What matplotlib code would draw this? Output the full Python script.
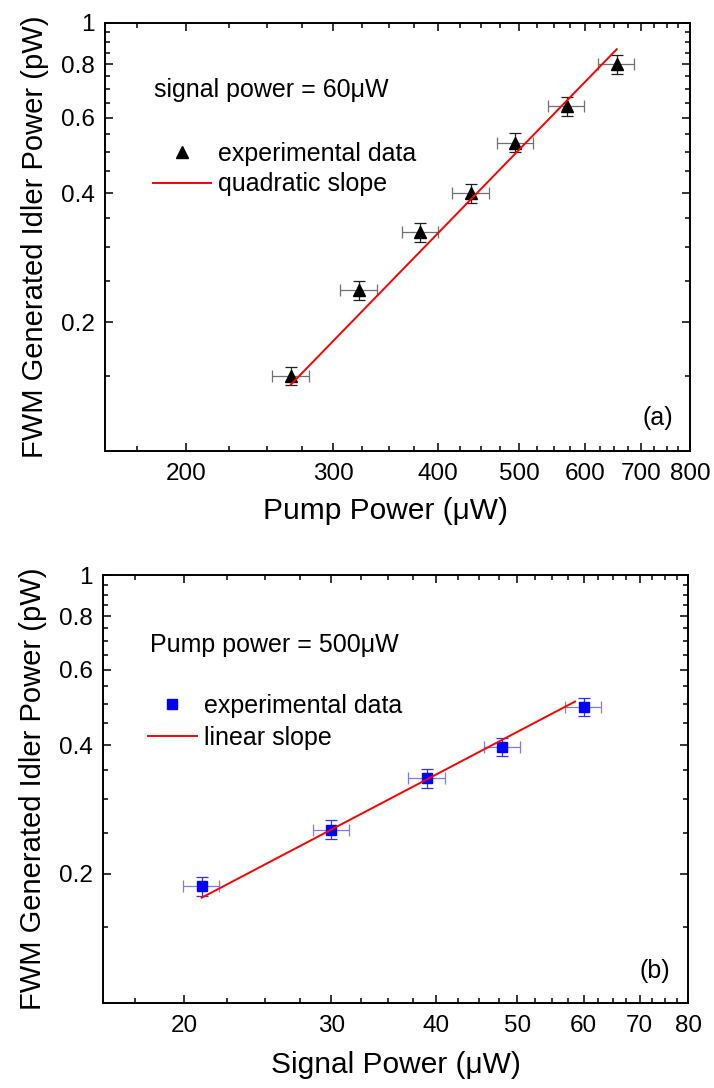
import numpy as np
import matplotlib
matplotlib.use("Agg")
import matplotlib.pyplot as plt
from matplotlib.ticker import FixedLocator, FuncFormatter, NullFormatter

plt.rcParams['font.family'] = ['Liberation Sans', 'DejaVu Sans']

# panel (a): idler power vs pump power (signal = 60 uW)
pump_power = [267, 322, 381, 438, 495, 570, 654]
idler_a = [0.150, 0.237, 0.324, 0.400, 0.525, 0.639, 0.801]
quad_x = [267, 654]
quad_y = [0.143, 0.867]

# panel (b): idler power vs signal power (pump = 500 uW)
signal_power = [21.0, 30.0, 39.0, 48.0, 60.0]
idler_b = [0.187, 0.254, 0.335, 0.397, 0.492]
lin_x = [21.0, 58.6]
lin_y = [0.176, 0.506]

rel_err = 0.05  # 5% error bars on both axes

a_xticks = [200, 300, 400, 500, 600, 700, 800]
a_xminor = [175, 225, 250, 275, 325, 350, 375, 425, 450, 475, 525, 550, 575,
            625, 650, 675, 725, 750, 775]
b_xticks = [20, 30, 40, 50, 60, 70, 80]
b_xminor = [17.5, 22.5, 25, 27.5, 32.5, 35, 37.5, 42.5, 45, 47.5, 52.5, 55, 57.5,
            62.5, 65, 67.5, 72.5, 75, 77.5]
yticks = [0.2, 0.4, 0.6, 0.8, 1.0]
yminor = [0.15, 0.25, 0.3, 0.35, 0.45, 0.5, 0.55, 0.65, 0.7, 0.75, 0.85, 0.9, 0.95]

W, H = 714, 1088
fig = plt.figure(figsize=(W / 100, H / 100), dpi=100)


def px_axes(left, top, right, bottom):
    return fig.add_axes([left / W, 1 - bottom / H, (right - left) / W, (bottom - top) / H])


def style_axes(ax, xlim, xmajor, xminor):
    ax.set_xscale('log')
    ax.set_yscale('log')
    ax.set_xlim(xlim)
    ax.set_ylim(0.1, 1)
    fmt = FuncFormatter(lambda v, p: f"{v:g}")
    ax.xaxis.set_major_locator(FixedLocator(xmajor))
    ax.xaxis.set_minor_locator(FixedLocator(xminor))
    ax.xaxis.set_major_formatter(fmt)
    ax.xaxis.set_minor_formatter(NullFormatter())
    ax.yaxis.set_major_locator(FixedLocator(yticks))
    ax.yaxis.set_minor_locator(FixedLocator(yminor))
    ax.yaxis.set_major_formatter(fmt)
    ax.yaxis.set_minor_formatter(NullFormatter())
    ax.tick_params(which='both', direction='in', top=True, right=True, width=1.1)
    ax.tick_params(which='major', length=5.8, labelsize=17.5)
    ax.tick_params(which='minor', length=3.3)
    ax.tick_params(axis='x', which='major', pad=8.6)
    ax.tick_params(axis='y', which='major', pad=7)
    for s in ax.spines.values():
        s.set_linewidth(1.4)


# ---------- (a) ----------
ax1 = px_axes(104.7, 22.7, 690, 451)
style_axes(ax1, (160, 800), a_xticks, a_xminor)
xa = np.array(pump_power)
ya = np.array(idler_a)
ax1.errorbar(xa, ya, xerr=rel_err * xa, fmt='none', ecolor='#707070',
             elinewidth=0.9, capsize=4, capthick=0.9, zorder=2)
ax1.errorbar(xa, ya, yerr=rel_err * ya, fmt='none', ecolor='#202020',
             elinewidth=0.9, capsize=4, capthick=0.9, zorder=2)
ax1.plot(xa, ya, linestyle='none', marker='^', markersize=8.5, color='black',
         label='experimental data', zorder=3)
ax1.plot(quad_x, quad_y, color='#ff0000', linewidth=1.4, label='quadratic slope', zorder=4)
ax1.text(0.084, 0.843, 'signal power = 60μW', transform=ax1.transAxes,
         fontsize=18, ha='left', va='center')
ax1.text(0.971, 0.078, '(a)', transform=ax1.transAxes, fontsize=18, ha='right', va='center')
ax1.legend(loc='upper left', bbox_to_anchor=(0.0825, 0.722), frameon=False, fontsize=18,
           numpoints=1, handlelength=2.32, handletextpad=0.28, labelspacing=0.26,
           borderpad=0, borderaxespad=0)
ax1.set_xlabel('Pump Power (μW)', fontsize=21.5, labelpad=10)
ax1.xaxis.set_label_coords(0.479, -0.107)
ax1.set_ylabel('FWM Generated Idler Power (pW)', fontsize=21, labelpad=9)

# ---------- (b) ----------
ax2 = px_axes(102.7, 575, 688.3, 1002.7)
style_axes(ax2, (16, 80), b_xticks, b_xminor)
xb = np.array(signal_power)
yb = np.array(idler_b)
ax2.errorbar(xb, yb, xerr=rel_err * xb, fmt='none', ecolor='#7a7aff',
             elinewidth=0.9, capsize=4, capthick=0.9, zorder=2)
ax2.errorbar(xb, yb, yerr=rel_err * yb, fmt='none', ecolor='#3030ff',
             elinewidth=0.9, capsize=4, capthick=0.9, zorder=2)
ax2.plot(xb, yb, linestyle='none', marker='s', markersize=7, color='#0000ff',
         label='experimental data', zorder=3)
ax2.plot(lin_x, lin_y, color='#ff0000', linewidth=1.4, label='linear slope', zorder=4)
ax2.text(0.080, 0.836, 'Pump power = 500μW', transform=ax2.transAxes,
         fontsize=18, ha='left', va='center')
ax2.text(0.969, 0.075, '(b)', transform=ax2.transAxes, fontsize=18, ha='right', va='center')
ax2.legend(loc='upper left', bbox_to_anchor=(0.0774, 0.722), frameon=False, fontsize=18,
           numpoints=1, handlelength=1.95, handletextpad=0.29, labelspacing=0.32,
           borderpad=0, borderaxespad=0)
ax2.set_xlabel('Signal Power (μW)', fontsize=21.5, labelpad=10)
ax2.set_ylabel('FWM Generated Idler Power (pW)', fontsize=21, labelpad=9)

fig.savefig('out.png', dpi=100)
